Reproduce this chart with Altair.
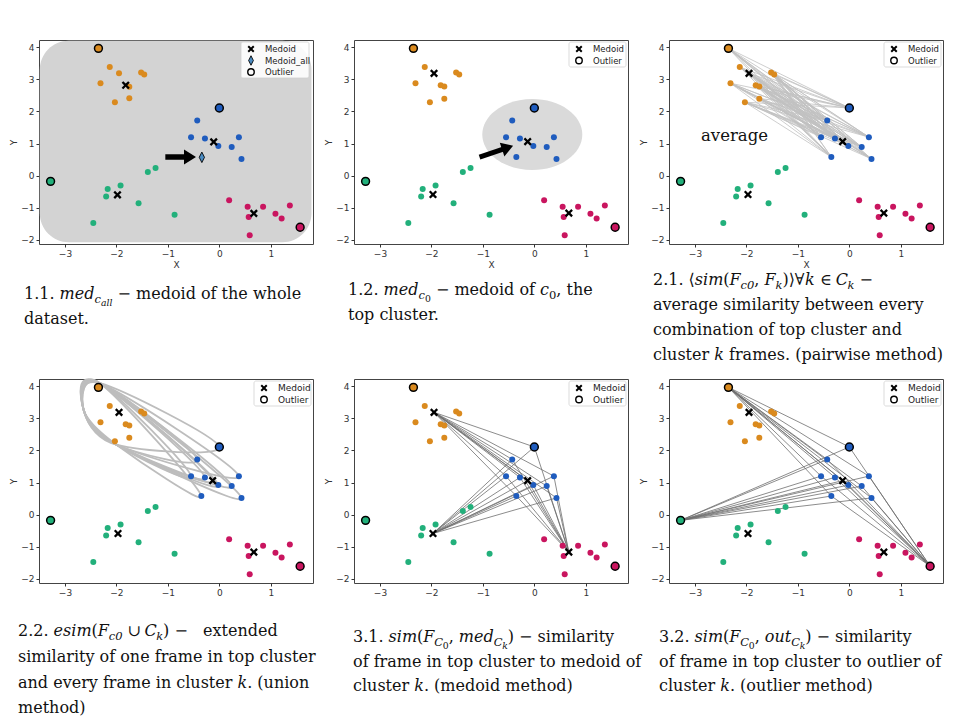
import altair as alt
import pandas as pd

# ---------------- data ----------------
CLUSTERS = ["orange", "blue", "green", "magenta"]
CLUSTER_COLORS = ["#DA8A1E", "#1F5CBE", "#22B07B", "#C9155F"]

ORANGE_X = [-2.13, -1.52, -1.46, -2.31, -1.82, -1.75, -2.03, -1.75]
ORANGE_Y = [3.39, 3.22, 3.15, 2.88, 2.82, 2.78, 2.29, 2.40]
BLUE_X = [-0.43, -0.55, -0.28, -0.02, 0.24, 0.38, -0.35, 0.43]
BLUE_Y = [1.72, 1.20, 1.16, 0.92, 0.89, 1.20, 0.58, 0.52]
GREEN_X = [-1.39, -1.24, -2.17, -1.92, -2.20, -1.57, -0.87, -2.45]
GREEN_Y = [0.11, 0.24, -0.42, -0.31, -0.65, -0.86, -1.22, -1.48]
MAGENTA_X = [0.19, 0.55, 0.57, 0.85, 1.09, 1.21, 1.37, 0.59]
MAGENTA_Y = [-0.77, -0.97, -1.29, -0.97, -1.19, -1.34, -0.93, -1.86]

MEDOID_X = [-1.95, -0.13, -1.97, 0.67]
MEDOID_Y = [3.19, 1.06, -0.59, -1.17]
OUTLIER_X = [-2.35, 0.00, -3.28, 1.57]
OUTLIER_Y = [3.97, 2.11, -0.18, -1.61]

# panel 1 variant (medoid of the whole dataset)
P1_ORANGE_X = [-2.13, -1.95, -1.52, -1.46, -2.31, -1.75, -2.03, -1.75]
P1_ORANGE_Y = [3.39, 3.19, 3.22, 3.15, 2.88, 2.77, 2.29, 2.41]
P1_BLUE_X = [-0.43, -0.55, -0.28, -0.02, 0.24, 0.38, 0.43]
P1_BLUE_Y = [1.72, 1.20, 1.16, 0.92, 0.89, 1.20, 0.52]
P1_MEDOID_X = [-1.82, -0.11, -1.98, 0.67]
P1_MEDOID_Y = [2.82, 1.05, -0.60, -1.18]
MEDOID_ALL_X = [-0.34]
MEDOID_ALL_Y = [0.57]

# annotations (data coordinates)
BG_BOX = {"x": [-3.49], "x2": [1.79], "y": [-2.08], "y2": [4.21]}
ELLIPSE = {"x": [-0.04], "y": [1.28]}
ARROW1 = {"x": [-1.05], "y": [0.58], "x2": [-0.57], "y2": [0.58]}
ARROW1_HEAD = {"x": [-0.57], "y": [0.58]}
ARROW2 = {"x": [-1.065], "y": [0.576], "x2": [-0.52], "y2": [0.871]}
ARROW2_HEAD = {"x": [-0.52], "y": [0.871]}
LOOP_LEFT = (-2.64, 3.28)
LOOP_TOP = (-2.32, 4.10)
LOOP_LOW = (-2.00, 2.18)

X_TICKS = [-3, -2, -1, 0, 1]
Y_TICKS = [-2, -1, 0, 1, 2, 3, 4]
X_DOMAIN = [-3.505, 1.82]
Y_DOMAIN = [-2.134, 4.23]

# ---------------- styling ----------------
PW, PH = 274, 204
COL_GAP, ROW_GAP = 41, 135
ORIGINS = [(41, 39), (356, 39), (671, 39), (41, 378), (356, 378), (671, 378)]
SERIF = "DejaVu Serif"
SANS = "DejaVu Sans"
FS = 16
TXT = "#111111"

X_PATH = "M-1,-0.6L-0.6,-1L0,-0.4L0.6,-1L1,-0.6L0.4,0L1,0.6L0.6,1L0,0.4L-0.6,1L-1,0.6L-0.4,0Z"
DIAMOND_PATH = "M0,-1L0.5,0L0,1L-0.5,0Z"
ELLIPSE_PATH = "M-1,0A1,0.71,0,1,1,1,0A1,0.71,0,1,1,-1,0Z"
HEAD_PATH = "M-0.8,-1L0.8,0L-0.8,1Z"

W = {' ': .318, '.': .318, ',': .318, '(': .390, ')': .390, '−': .838, '–': .5,
     'a': .596, 'b': .640, 'c': .560, 'd': .640, 'e': .592, 'f': .370, 'g': .640,
     'h': .644, 'i': .320, 'j': .310, 'k': .606, 'l': .320, 'm': .948, 'n': .644,
     'o': .602, 'p': .640, 'q': .640, 'r': .478, 's': .513, 't': .402, 'u': .644,
     'v': .565, 'w': .856, 'x': .564, 'y': .565, 'z': .527, 'C': .734, 'F': .683,
     '⟨': .39, '⟩': .39, '∀': .64, '∈': .67, '∪': .73}
for d in "0123456789":
    W[d] = .636


def width(s):
    return sum(W.get(ch, 0.6) for ch in s)


XS = alt.Scale(domain=X_DOMAIN, nice=False, zero=False)
YS = alt.Scale(domain=Y_DOMAIN, nice=False, zero=False)
FILL = alt.Scale(domain=CLUSTERS, range=CLUSTER_COLORS)


def axis(values, title):
    return alt.Axis(values=values, title=title, grid=False, domain=False, tickSize=3,
                    tickColor="#333", labelPadding=2, labelFontSize=9, labelFont=SANS,
                    labelColor="#333", titleFontSize=9, titleFont=SANS, titleColor="#333",
                    titleFontWeight="normal", titlePadding=2)


def enc_xy(xtitle, x="x", y="y"):
    return dict(x=alt.X(f"{x}:Q", scale=XS, axis=axis(X_TICKS, xtitle)),
                y=alt.Y(f"{y}:Q", scale=YS, axis=axis(Y_TICKS, "Y")))


ONE = pd.DataFrame({"v": [0]})


def vtext(s, x, y, size, italic=False, font=SERIF, color=TXT, baseline="alphabetic"):
    return alt.Chart(ONE).mark_text(align="left", baseline=baseline, font=font, fontSize=size,
                                    fontStyle="italic" if italic else "normal",
                                    color=color).encode(x=alt.value(x), y=alt.value(y),
                                                        text=alt.value(s))


def norm(p):
    if len(p) == 1:
        return (p[0], "r", 0)
    if len(p) == 2:
        return (p[0], p[1], 0)
    return p


def caption(lines, origin):
    ox, oy = origin
    out = []
    sizes = [FS, FS * 0.72, FS * 0.58]
    shifts = [0, FS * 0.28, FS * 0.45]
    for lx, ly, pieces in lines:
        cx = lx
        for p in pieces:
            s, style, lvl = norm(p)
            size = sizes[lvl]
            lead = len(s) - len(s.lstrip(" "))
            t = s.strip(" ")
            if t:
                out.append(vtext(t, cx + lead * W[" "] * size - ox, ly + shifts[lvl] - oy,
                                 size, italic=(style == "i")))
            cx += width(s) * size
    return out


def frame(xs, ys, cl):
    return pd.DataFrame({"x": xs, "y": ys, "cluster": cl})


def dots_layer(df, xtitle):
    return alt.Chart(df).mark_circle(size=36, opacity=1, strokeWidth=0).encode(
        fill=alt.Fill("cluster:N", scale=FILL, legend=None), **enc_xy(xtitle))


def medoid_layer(xs, ys, xtitle):
    return alt.Chart(pd.DataFrame({"x": xs, "y": ys})).mark_point(
        shape=X_PATH, filled=True, fill="black", size=66, opacity=1, strokeWidth=0).encode(**enc_xy(xtitle))


def outlier_layer(xtitle):
    return alt.Chart(frame(OUTLIER_X, OUTLIER_Y, CLUSTERS)).mark_point(
        shape="circle", filled=True, size=62, stroke="black", strokeWidth=1.5, opacity=1).encode(
        fill=alt.Fill("cluster:N", scale=FILL, legend=None), **enc_xy(xtitle))


def segments_layer(df, color, sw, xtitle):
    e = enc_xy(xtitle)
    return alt.Chart(df).mark_rule(color=color, strokeWidth=sw).encode(
        x2=alt.X2("x2:Q"), y2=alt.Y2("y2:Q"), **e)


def legend(items, fsize=8.5):
    big = len(items) == 3
    x0, x1 = (202, 270) if big else (215, 272)
    y1 = 38 if big else 27
    mx, tx = (x0 + 10, x0 + 24)
    out = [alt.Chart(ONE).mark_rect(fill="white", stroke="#cfcfcf", strokeWidth=0.8,
                                    cornerRadius=2, opacity=0.9).encode(
        x=alt.value(x0), x2=alt.value(x1), y=alt.value(2), y2=alt.value(y1))]
    for k, (label, kind) in enumerate(items):
        yy = 9 + 11.5 * k
        if kind == "medoid":
            m = alt.Chart(ONE).mark_point(shape=X_PATH, filled=True, fill="black", size=48,
                                          strokeWidth=0, opacity=1)
        elif kind == "medoid_all":
            m = alt.Chart(ONE).mark_point(shape=DIAMOND_PATH, filled=True, fill="#4a8bc2",
                                          stroke="black", strokeWidth=0.9, size=90, opacity=1)
        else:
            m = alt.Chart(ONE).mark_point(shape="circle", filled=False, stroke="black",
                                          strokeWidth=1.4, size=42, opacity=1)
        out.append(m.encode(x=alt.value(mx), y=alt.value(yy)))
        out.append(vtext(label, tx, yy, fsize, font=SANS, color="#222", baseline="middle"))
    return out


blue_members = list(zip(BLUE_X + [MEDOID_X[1], OUTLIER_X[1]], BLUE_Y + [MEDOID_Y[1], OUTLIER_Y[1]]))
orange_members = list(zip(ORANGE_X + [MEDOID_X[0], OUTLIER_X[0]], ORANGE_Y + [MEDOID_Y[0], OUTLIER_Y[0]]))

dots_std = pd.concat([frame(ORANGE_X, ORANGE_Y, "orange"), frame(BLUE_X, BLUE_Y, "blue"),
                      frame(GREEN_X, GREEN_Y, "green"), frame(MAGENTA_X, MAGENTA_Y, "magenta")])
dots_p1 = pd.concat([frame(P1_ORANGE_X, P1_ORANGE_Y, "orange"), frame(P1_BLUE_X, P1_BLUE_Y, "blue"),
                     frame(GREEN_X, GREEN_Y, "green"), frame(MAGENTA_X, MAGENTA_Y, "magenta")])

pair_df = pd.DataFrame([{"x": a[0], "y": a[1], "x2": b[0], "y2": b[1]}
                        for a in orange_members for b in blue_members])
med_df = pd.DataFrame([{"x": MEDOID_X[c], "y": MEDOID_Y[c], "x2": b[0], "y2": b[1]}
                       for c in (0, 2, 3) for b in blue_members])
out_df = pd.DataFrame([{"x": OUTLIER_X[c], "y": OUTLIER_Y[c], "x2": b[0], "y2": b[1]}
                       for c in (0, 2, 3) for b in blue_members])
loop_rows = []
for li, b in enumerate(blue_members):
    for oi, p in enumerate([LOOP_LEFT, LOOP_TOP, b, LOOP_LOW]):
        loop_rows.append({"x": p[0], "y": p[1], "loop": li, "ord": oi})
loop_df = pd.DataFrame(loop_rows)

LEG3 = [("Medoid", "medoid"), ("Medoid_all", "medoid_all"), ("Outlier", "outlier")]
LEG2 = [("Medoid", "medoid"), ("Outlier", "outlier")]

# ---------------- captions ----------------
CAPTIONS = [
    [(26, 298, [("1.1. ",), ("med", "i"), ("c", "i", 1), ("all", "i", 2), (" − ",), ("medoid of the whole",)]),
     (26, 323, [("dataset.",)])],
    [(350, 294, [("1.2. ",), ("med", "i"), ("c", "i", 1), ("0", "r", 2), (" − ",), ("medoid of ",),
                 ("c", "i"), ("0", "r", 1), (", the",)]),
     (350, 319, [("top cluster.",)])],
    [(655, 284, [("2.1. ",), ("⟨",), ("sim", "i"), ("(",), ("F", "i"), ("c0", "i", 1), (", ",), ("F", "i"),
                 ("k", "i", 1), (")⟩∀",), ("k", "i"), (" ∈ ",), ("C", "i"), ("k", "i", 1), (" −",)]),
     (655, 309, [("average similarity between every",)]),
     (655, 334, [("combination of top cluster and",)]),
     (655, 359, [("cluster ",), ("k", "i"), (" frames. (pairwise method)",)])],
    [(20, 635, [("2.2. ",), ("esim", "i"), ("(",), ("F", "i"), ("c0", "i", 1), (" ∪ ",), ("C", "i"),
                ("k", "i", 1), (")",), (" −   ",), ("extended",)]),
     (20, 661, [("similarity of one frame in top cluster",)]),
     (20, 687, [("and every frame in cluster ",), ("k", "i"), (". (union",)]),
     (20, 712, [("method)",)])],
    [(355, 641, [("3.1. ",), ("sim", "i"), ("(",), ("F", "i"), ("C", "i", 1), ("0", "r", 2), (", ",),
                 ("med", "i"), ("C", "i", 1), ("k", "i", 2), (")",), (" − ",), ("similarity",)]),
     (355, 666, [("of frame in top cluster to medoid of",)]),
     (355, 690, [("cluster ",), ("k", "i"), (". (medoid method)",)])],
    [(661, 641, [("3.2. ",), ("sim", "i"), ("(",), ("F", "i"), ("C", "i", 1), ("0", "r", 2), (", ",),
                 ("out", "i"), ("C", "i", 1), ("k", "i", 2), (")",), (" − ",), ("similarity",)]),
     (661, 666, [("of frame in top cluster to outlier of",)]),
     (661, 690, [("cluster ",), ("k", "i"), (". (outlier method)",)])],
]

# ---------------- panels ----------------
panels = []

# 1.1
t = "X"
layers = [alt.Chart(pd.DataFrame(BG_BOX)).mark_rect(fill="#d3d3d3", cornerRadius=29).encode(
    x2=alt.X2("x2:Q"), y2=alt.Y2("y2:Q"), **enc_xy(t)),
    dots_layer(dots_p1, t), medoid_layer(P1_MEDOID_X, P1_MEDOID_Y, t), outlier_layer(t),
    segments_layer(pd.DataFrame(ARROW1), "black", 5.5, t),
    alt.Chart(pd.DataFrame(ARROW1_HEAD)).mark_point(shape=HEAD_PATH, filled=True, fill="black",
                                                   size=225, strokeWidth=0, opacity=1).encode(**enc_xy(t)),
    alt.Chart(pd.DataFrame({"x": MEDOID_ALL_X, "y": MEDOID_ALL_Y})).mark_point(
        shape=DIAMOND_PATH, filled=True, fill="#4a8bc2", stroke="black", strokeWidth=0.9,
        size=110, opacity=1).encode(**enc_xy(t))]
layers += legend(LEG3) + caption(CAPTIONS[0], ORIGINS[0])
panels.append(alt.layer(*layers).properties(width=PW, height=PH))

# 1.2
layers = [alt.Chart(pd.DataFrame(ELLIPSE)).mark_point(shape=ELLIPSE_PATH, filled=True, fill="#dadada",
                                                      size=10000, strokeWidth=0, opacity=1).encode(**enc_xy(t)),
          dots_layer(dots_std, t), medoid_layer(MEDOID_X, MEDOID_Y, t), outlier_layer(t),
          segments_layer(pd.DataFrame(ARROW2), "black", 5, t),
          alt.Chart(pd.DataFrame(ARROW2_HEAD)).mark_point(shape=HEAD_PATH, filled=True, fill="black",
                                                         size=210, angle=341.5, strokeWidth=0,
                                                         opacity=1).encode(**enc_xy(t))]
layers += legend(LEG2) + caption(CAPTIONS[1], ORIGINS[1])
panels.append(alt.layer(*layers).properties(width=PW, height=PH))

# 2.1
layers = [segments_layer(pair_df, "#c2c2c2", 0.8, t), dots_layer(dots_std, t),
          medoid_layer(MEDOID_X, MEDOID_Y, t), outlier_layer(t),
          vtext("average", 32, 101, 16.5)]
layers += legend(LEG2) + caption(CAPTIONS[2], ORIGINS[2])
panels.append(alt.layer(*layers).properties(width=PW, height=PH))

# 2.2
t = ""
layers = [alt.Chart(loop_df).mark_line(color="#bdbdbd", strokeWidth=1.8, interpolate="cardinal-closed").encode(
    detail="loop:N", order="ord:Q", **enc_xy(t)),
    dots_layer(dots_std, t), medoid_layer(MEDOID_X, MEDOID_Y, t), outlier_layer(t)]
layers += legend(LEG2, 9) + caption(CAPTIONS[3], ORIGINS[3])
panels.append(alt.layer(*layers).properties(width=PW, height=PH))

# 3.1
layers = [segments_layer(med_df, "#6e6e6e", 0.8, t), dots_layer(dots_std, t),
          medoid_layer(MEDOID_X, MEDOID_Y, t), outlier_layer(t)]
layers += legend(LEG2, 9) + caption(CAPTIONS[4], ORIGINS[4])
panels.append(alt.layer(*layers).properties(width=PW, height=PH))

# 3.2
layers = [segments_layer(out_df, "#6e6e6e", 0.8, t), dots_layer(dots_std, t),
          medoid_layer(MEDOID_X, MEDOID_Y, t), outlier_layer(t)]
layers += legend(LEG2, 9) + caption(CAPTIONS[5], ORIGINS[5])
panels.append(alt.layer(*layers).properties(width=PW, height=PH))

chart = alt.concat(*panels, columns=3, spacing=alt.RowColnumber(column=COL_GAP, row=ROW_GAP),
                   bounds="flush").properties(
    padding={"left": 9, "top": 39, "right": 5, "bottom": 5}, background="white"
).configure_view(stroke="#444", strokeWidth=1)

chart.save("out.html", embed_options={"renderer": "svg", "actions": False})
